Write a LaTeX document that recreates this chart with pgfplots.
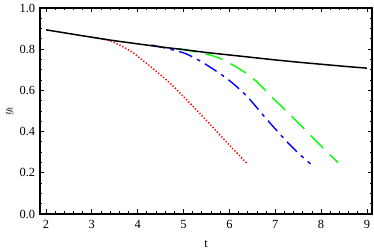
\documentclass[border=0pt]{standalone}
\usepackage{fontspec}
\setmainfont{Liberation Serif}
\usepackage{pgfplots}
\pgfplotsset{compat=1.18}
\begin{document}
\fontsize{12.5}{14}\selectfont
\begin{tikzpicture}
\useasboundingbox (-40bp,-37bp) rectangle (334bp,214bp);
\begin{axis}[
  at={(0,0)}, anchor=south west,
  scale only axis, width=332bp, height=206bp,
  xmin=1.87, xmax=9.11, ymin=0, ymax=1,
  xtick={2,3,4,5,6,7,8,9},
  ytick={0,0.2,0.4,0.6,0.8,1.0},
  minor x tick num=4, minor y tick num=3,
  tick align=inside,
  major tick length=4.5bp, minor tick length=2.5bp,
  every tick/.style={black, line width=0.8bp},
  axis line style={line width=1.2bp},
  /pgf/number format/assume math mode=true,
  yticklabel style={/pgf/number format/fixed,/pgf/number format/fixed zerofill,/pgf/number format/precision=1, xshift=-0.5bp},
  xticklabel style={yshift=-2bp},
  tick label style={font=\fontsize{12.5}{14}\selectfont},
  xlabel={t}, ylabel={$y_t$},
  xlabel style={at={(axis description cs:0.5,-0.165)}, anchor=base, font=\fontsize{12.5}{14}\selectfont},
  ylabel style={at={(axis description cs:-0.087,0.5)}, anchor=base, font=\fontsize{12.5}{14}\selectfont},
]
\addplot[red, line width=1.5bp, dash pattern=on 1.3bp off 1.9bp, smooth] coordinates {
(3.0,0.858) (3.2,0.851) (3.4,0.840) (3.61,0.820) (3.9,0.783) (4.04,0.758) (4.25,0.721) (4.47,0.681) (4.7,0.636) (4.91,0.590) (5.27,0.508) (5.63,0.423) (5.99,0.337) (6.39,0.244)};
\addplot[blue, line width=1.4bp, dash pattern=on 14bp off 5.5bp on 3.5bp off 5.5bp, smooth] coordinates {
(4.3,0.820) (4.5,0.811) (4.76,0.797) (5.05,0.778) (5.4,0.738) (5.85,0.673) (6.14,0.622) (6.43,0.560) (6.79,0.466) (7.22,0.359) (7.5,0.296) (7.77,0.243)};
\addplot[green, line width=1.4bp, dash pattern=on 18bp off 9bp, smooth] coordinates {
(4.9,0.802) (5.1,0.794) (5.3,0.786) (5.56,0.773) (5.8,0.755) (6.0,0.733) (6.3,0.693) (6.57,0.648) (7.0,0.552) (7.44,0.456) (7.87,0.359) (8.37,0.249)};
\addplot[black, line width=1.5bp, smooth] coordinates {
(2,0.894) (2.5,0.876) (3,0.858) (3.5,0.841) (4,0.826) (4.5,0.811) (5,0.798) (5.5,0.784) (6,0.772) (6.5,0.760) (7,0.748) (7.5,0.737) (8,0.727) (8.5,0.717) (9,0.708)};
\end{axis}
\end{tikzpicture}
\end{document}
